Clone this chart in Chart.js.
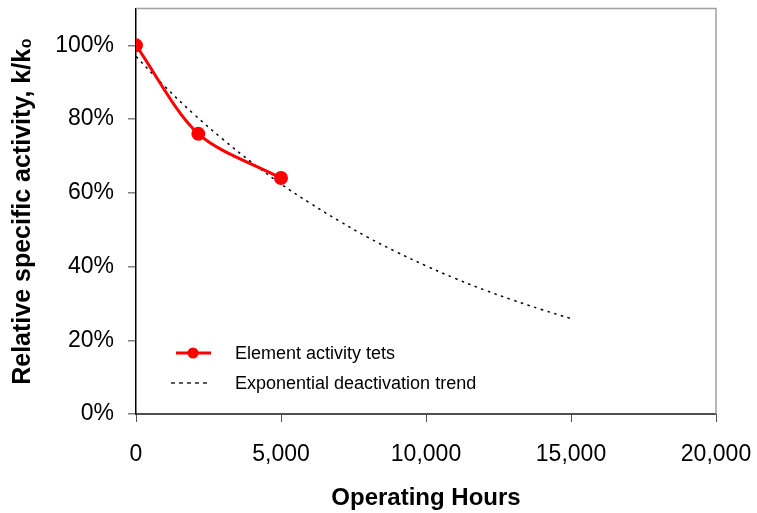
<!DOCTYPE html>
<html>
<head>
<meta charset="utf-8">
<script src="https://cdn.jsdelivr.net/npm/chart.js@4.4.1/dist/chart.umd.min.js"></script>
<style>
  body { margin: 0; background: #fff; }
  #wrap { width: 757px; height: 513px; }
</style>
</head>
<body>
<div id="wrap"><canvas id="activityChart" width="757" height="513"></canvas></div>
<script>
// measured element activity (hours, % of initial)
const testHours = [0, 2150, 5000];
const testActivity = [100, 76, 64];

// exponential trend line
const trendHours = [0, 1000, 2000, 3000, 4000, 5000, 6000, 7000, 8000, 9000, 10000, 11000, 12000, 13000, 14000, 15000];
const trendActivity = [97, 88.8, 81.3, 74.5, 68.2, 62.4, 57.2, 52.4, 47.9, 43.9, 40.2, 36.8, 33.7, 30.9, 28.3, 25.9];

const xTicks = [0, 5000, 10000, 15000, 20000];
const yTicks = [0, 20, 40, 60, 80, 100];

const seriesNames = ['Element activity tets', 'Exponential deactivation trend'];

const FONT = '"Liberation Sans", Arial, sans-serif';

function toPoints(xs, ys) {
  return xs.map((x, i) => ({ x: x, y: ys[i] }));
}

// no extra room for half-labels, the frame is fixed by the layout padding
function noPad(s) {
  s.paddingTop = 0;
  s.paddingBottom = 0;
  s.paddingLeft = 0;
  s.paddingRight = 0;
}

// top and right frame of the plot area
const framePlugin = {
  id: 'frame',
  afterDraw(chart) {
    const { ctx, chartArea: a } = chart;
    ctx.save();
    ctx.strokeStyle = '#a0a0a0';
    ctx.lineWidth = 1.5;
    ctx.beginPath();
    ctx.moveTo(a.left, a.top);
    ctx.lineTo(a.right, a.top);
    ctx.lineTo(a.right, a.bottom);
    ctx.stroke();
    ctx.restore();
  }
};

// legend sitting inside the plot, lower left
const legendPlugin = {
  id: 'insideLegend',
  afterDraw(chart) {
    const ctx = chart.ctx;
    ctx.save();
    ctx.font = '18px ' + FONT;
    ctx.fillStyle = '#000';
    ctx.textBaseline = 'middle';

    // row 1: red line with marker
    ctx.strokeStyle = '#ff0000';
    ctx.lineWidth = 3;
    ctx.beginPath();
    ctx.moveTo(176, 353);
    ctx.lineTo(211, 353);
    ctx.stroke();
    ctx.fillStyle = '#ff0000';
    ctx.beginPath();
    ctx.arc(193, 353, 5.5, 0, Math.PI * 2);
    ctx.fill();
    ctx.fillStyle = '#000';
    ctx.fillText(seriesNames[0], 235, 354);

    // row 2: dotted trend
    ctx.strokeStyle = '#000';
    ctx.lineWidth = 1.3;
    ctx.setLineDash([4, 4]);
    ctx.beginPath();
    ctx.moveTo(171, 383);
    ctx.lineTo(210, 383);
    ctx.stroke();
    ctx.setLineDash([]);
    ctx.fillText(seriesNames[1], 235, 384);
    ctx.restore();
  }
};

const ctx = document.getElementById('activityChart').getContext('2d');
new Chart(ctx, {
  type: 'scatter',
  data: {
    datasets: [
      {
        label: seriesNames[0],
        data: toPoints(testHours, testActivity),
        showLine: true,
        borderColor: '#ff0000',
        backgroundColor: '#ff0000',
        borderWidth: 3,
        pointRadius: 5.5,
        pointHoverRadius: 5.5,
        tension: 0.3,
        order: 0
      },
      {
        label: seriesNames[1],
        data: toPoints(trendHours, trendActivity),
        showLine: true,
        borderColor: '#000',
        borderWidth: 1.5,
        borderDash: [2.5, 4.5],
        pointRadius: 0,
        tension: 0.4,
        order: 1
      }
    ]
  },
  options: {
    responsive: false,
    animation: false,
    layout: { padding: { top: 7, right: 41, left: 0, bottom: 0 } },
    plugins: {
      legend: { display: false },
      tooltip: { enabled: false }
    },
    scales: {
      x: {
        type: 'linear',
        min: 0,
        max: 20000,
        afterBuildTicks: (s) => { s.ticks = xTicks.map(v => ({ value: v })); },
        afterFit: (s) => { s.height = 99; noPad(s); },
        ticks: {
          padding: 19,
          color: '#000',
          font: { family: FONT, size: 23 },
          maxRotation: 0,
          callback: (v) => v.toLocaleString('en-US')
        },
        grid: { drawOnChartArea: false, tickLength: 8, color: '#505050', lineWidth: 1 },
        border: { color: '#505050', width: 2 },
        title: {
          display: true,
          text: 'Operating Hours',
          color: '#000',
          font: { family: FONT, size: 24, weight: 'bold' },
          padding: { top: 0, bottom: 0 }
        }
      },
      y: {
        min: 0,
        max: 110,
        afterBuildTicks: (s) => { s.ticks = yTicks.map(v => ({ value: v })); },
        afterFit: (s) => { s.width = 136; noPad(s); },
        ticks: {
          padding: 14,
          color: '#000',
          font: { family: FONT, size: 23 },
          callback: (v) => v + '%'
        },
        grid: { drawOnChartArea: false, tickLength: 8, color: '#808080', lineWidth: 1.5 },
        border: { color: '#000', width: 1.5 },
        title: {
          display: true,
          text: 'Relative specific activity, k/k\u2080',
          color: '#000',
          font: { family: FONT, size: 25, weight: 'bold' },
          padding: { top: 8, bottom: 0 }
        }
      }
    }
  },
  plugins: [framePlugin, legendPlugin]
});
</script>
</body>
</html>
